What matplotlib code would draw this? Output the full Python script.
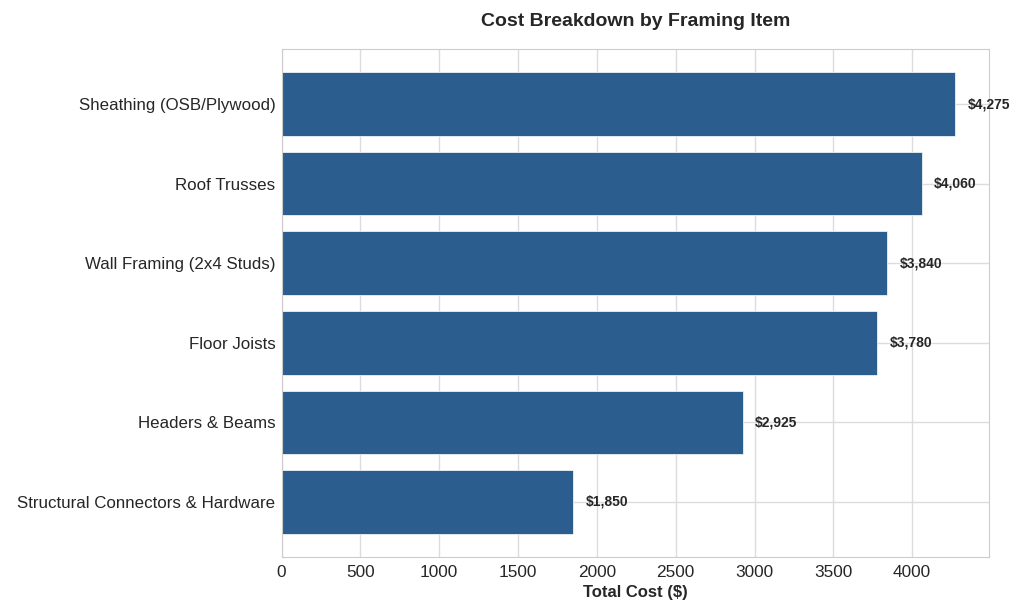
import matplotlib
matplotlib.use("Agg")
import matplotlib.pyplot as plt
import seaborn as sns

items = [
    "Sheathing (OSB/Plywood)",
    "Roof Trusses",
    "Wall Framing (2x4 Studs)",
    "Floor Joists",
    "Headers & Beams",
    "Structural Connectors & Hardware",
]
costs = [4275, 4060, 3840, 3780, 2925, 1850]

sns.set_style("whitegrid")
plt.rcParams['font.family'] = ['Liberation Sans', 'DejaVu Sans']

fig, ax = plt.subplots(figsize=(10.24, 6.14), dpi=100)
ypos = list(range(len(items)))
ax.barh(ypos, costs, height=0.8, color="#2c5d8f", edgecolor="white", linewidth=0.5)
ax.set_yticks(ypos)
ax.set_yticklabels(items, fontsize=12.2, color="#262626")
ax.invert_yaxis()
ax.set_xlim(0, max(costs) * 1.05)
ax.tick_params(axis='x', labelsize=12.4, colors="#262626", pad=2)
ax.tick_params(axis='y', pad=1)
ax.set_xlabel("Total Cost ($)", fontsize=12, fontweight="bold", color="#262626", labelpad=4)
ax.set_title("Cost Breakdown by Framing Item", fontsize=14, fontweight="bold", color="#262626", pad=17)
ax.grid(color="#dcdcdc", linewidth=1)

for y, c in zip(ypos, costs):
    ax.text(c + 80, y, f"${c:,}", va="center", ha="left", fontsize=10, fontweight="bold", color="#262626")

for s in ax.spines.values():
    s.set_color("#cccccc")

fig.subplots_adjust(left=0.275, right=0.966, top=0.92, bottom=0.093)
fig.savefig("out.png", dpi=100)
